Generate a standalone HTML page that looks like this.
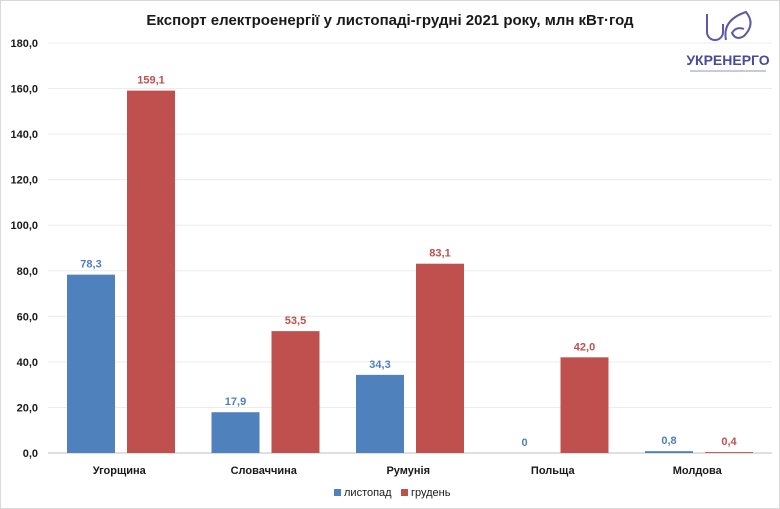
<!DOCTYPE html>
<html><head><meta charset="utf-8"><style>
body{margin:0;background:#fff;}
svg{display:block;font-family:"Liberation Sans","DejaVu Sans",sans-serif;}
</style></head><body>
<svg id="c" width="780" height="509" viewBox="0 0 780 509">
<rect x="0.5" y="0.5" width="779" height="508" fill="#fff" stroke="#d9d9d9"/>
<text x="390" y="25" text-anchor="middle" font-size="15" font-weight="bold" fill="#1a1a1a">Експорт електроенергії у листопаді-грудні 2021 року, млн кВт·год</text>
<g>
<path d="M707 14 v18 a8 8 0 0 0 16 0 v-8" fill="none" stroke="#5a5aa8" stroke-width="2"/>
<path d="M726 40 q-4 -20 20 -28 q10 12 -2 24 q-8 5 -12 -3 q4 -7 12 -4" fill="none" stroke="#5a5aa8" stroke-width="2"/>
<text x="728" y="65" text-anchor="middle" font-size="14" font-weight="bold" fill="#4a4a9c">УКРЕНЕРГО</text>
<rect x="690" y="70" width="76" height="2" fill="#c8c8e0"/>
</g>
<g id="grid"></g><g id="bars"></g><g id="labels"></g>
<g>
<rect x="334" y="489" width="7" height="7" fill="#4f81bd"/>
<text x="344" y="496" font-size="11" fill="#1a1a1a">листопад</text>
<rect x="401" y="489" width="7" height="7" fill="#c0504d"/>
<text x="411" y="496" font-size="11" fill="#1a1a1a">грудень</text>
</g>
</svg>
<script>
const categories=["Угорщина","Словаччина","Румунія","Польща","Молдова"];
const november=[78.3,17.9,34.3,0,0.8];
const december=[159.1,53.5,83.1,42.0,0.4];
const ticks=[0,20,40,60,80,100,120,140,160,180];
const NS="http://www.w3.org/2000/svg";
const x0=48,gw=144.5,y0=453,ymax=180,ph=410;
const y=v=>y0-v/ymax*ph;
const fmt=v=>v.toFixed(1).replace('.',',');
function mk(t,a,p){const e=document.createElementNS(NS,t);for(const k in a)e.setAttribute(k,a[k]);p.appendChild(e);return e;}
const grid=document.getElementById('grid'),bars=document.getElementById('bars'),labels=document.getElementById('labels');
ticks.forEach(t=>{
 const l=mk('line',{x1:x0,x2:772,y1:y(t),y2:y(t),stroke:t===0?'#bfbfbf':'#ececec'},grid);
 
 
 const tx=mk('text',{x:38,y:y(t)+4,'text-anchor':'end','font-size':11,'font-weight':'bold',fill:'#1a1a1a'},grid);
 tx.textContent=fmt(t);
 
 
});
categories.forEach((c,i)=>{
 const gx=x0+gw*i;
 [[november[i],'#4f81bd',19,'bar-november'],[december[i],'#c0504d',79,'bar-december']].forEach(([v,col,off,nm],j)=>{
  const b=mk('rect',{x:gx+off,y:y(v),width:48,height:y0-y(v),fill:col},bars);
  
  
  const lt=mk('text',{x:gx+off+24,y:y(v)-7,'text-anchor':'middle','font-size':11,'font-weight':'bold',fill:col},labels);
  lt.textContent=v===0?'0':fmt(v);
  
  
 });
 const ct=mk('text',{x:gx+gw/2-1,y:474,'text-anchor':'middle','font-size':11,'font-weight':'bold',fill:'#1a1a1a'},labels);
 ct.textContent=c;
 
 
});
</script>
</body></html>
